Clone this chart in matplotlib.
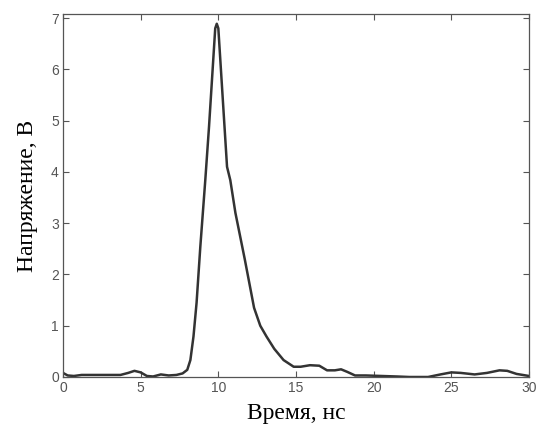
import matplotlib
matplotlib.use("Agg")
import matplotlib.pyplot as plt

# время, нс
t_ns = [0, 0.3, 0.7, 1.2, 2.0, 3.0, 3.7, 4.2, 4.6, 5.0, 5.4, 5.8, 6.3, 6.8,
        7.3, 7.7, 8.0, 8.2, 8.4, 8.6, 8.84, 9.16, 9.4, 9.8, 9.9, 10.0, 10.56,
        10.77, 11.1, 11.7, 12.3, 12.7, 13.1, 13.6, 14.2, 14.85, 15.3, 15.9,
        16.5, 17.0, 17.5, 17.9, 18.3, 18.8, 19.5, 20.5, 21.5, 22.3, 23.5,
        24.3, 25.0, 25.6, 26.5, 27.3, 28.1, 28.6, 29.2, 30.0]
# напряжение, В
u_v = [0.08, 0.03, 0.02, 0.04, 0.04, 0.04, 0.04, 0.08, 0.12, 0.09, 0.02, 0.01,
       0.05, 0.03, 0.04, 0.07, 0.14, 0.33, 0.79, 1.45, 2.54, 3.84, 4.88, 6.8,
       6.89, 6.8, 4.1, 3.84, 3.2, 2.3, 1.35, 1.0, 0.79, 0.55, 0.33, 0.2, 0.2,
       0.23, 0.22, 0.13, 0.13, 0.15, 0.1, 0.03, 0.03, 0.02, 0.01, 0.0, 0.0,
       0.05, 0.09, 0.08, 0.05, 0.08, 0.13, 0.12, 0.06, 0.02]

xticks = [0, 5, 10, 15, 20, 25, 30]
yticks = [0, 1, 2, 3, 4, 5, 6, 7]

fig = plt.figure(figsize=(5.36, 4.30), dpi=100)
ax = fig.add_axes([63 / 536, 53 / 430, 466 / 536, 363 / 430])

ax.plot(t_ns, u_v, color="#333333", lw=1.8)

ax.set_xlim(0, 30)
ax.set_ylim(0, 7.08)
ax.set_xticks(xticks)
ax.set_yticks(yticks)
ax.tick_params(direction="in", top=True, right=True, length=4, width=0.8,
               colors="#555555", labelsize=10, pad=3)
for lab in ax.get_xticklabels() + ax.get_yticklabels():
    lab.set_family("Liberation Sans")
for sp in ax.spines.values():
    sp.set_color("#555555")
    sp.set_linewidth(0.9)

ax.set_xlabel("Время, нс", family="Liberation Serif", fontsize=17, labelpad=6)
ax.set_ylabel("Напряжение, В", family="Liberation Serif", fontsize=17, labelpad=9)

fig.savefig("out.png", dpi=100, facecolor="white")
